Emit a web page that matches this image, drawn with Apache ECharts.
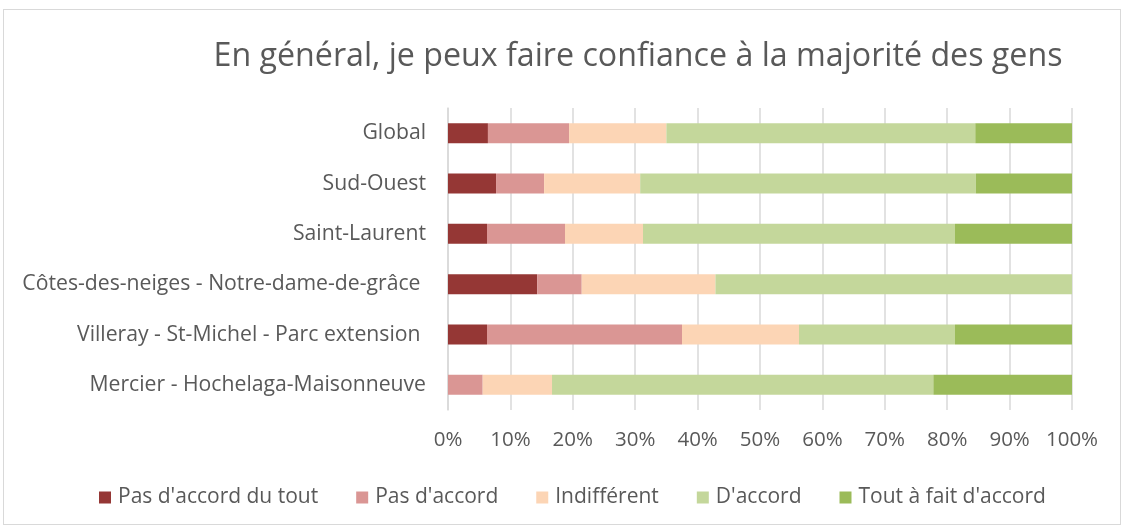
<!DOCTYPE html>
<html>
<head>
<meta charset="utf-8">
<script src="https://cdn.jsdelivr.net/npm/echarts@6/dist/echarts.min.js"></script>
<style>
  html, body { margin: 0; padding: 0; background: #fff; }
  #frame { position: absolute; left: 3px; top: 9px; width: 1116px; height: 514px; border: 1px solid #d9d9d9; }
  #chart { position: absolute; left: 0; top: 0; width: 1126px; height: 529px; }
</style>
</head>
<body>
<div id="frame"></div>
<div id="chart"></div>
<script>
var titleText = "En général, je peux faire confiance à la majorité des gens";
var categories = [
    "Global",
    "Sud-Ouest",
    "Saint-Laurent",
    "Côtes-des-neiges - Notre-dame-de-grâce ",
    "Villeray - St-Michel - Parc extension ",
    "Mercier - Hochelaga-Maisonneuve"
];
var seriesNames = ["Pas d'accord du tout", "Pas d'accord", "Indifférent", "D'accord", "Tout à fait d'accord"];
var colors = ["#953735", "#da9694", "#fcd5b5", "#c4d79b", "#9bbb59"];

// % par catégorie, même ordre que categories
var pasDuTout   = [6.4, 7.7, 6.25, 14.29, 6.25, 0];
var pasDaccord  = [13.0, 7.7, 12.5, 7.14, 31.25, 5.56];
var indifferent = [15.6, 15.4, 12.5, 21.43, 18.75, 11.11];
var daccord     = [49.5, 53.8, 50.0, 57.14, 25.0, 61.11];
var toutAFait   = [15.5, 15.4, 18.75, 0, 18.75, 22.22];

var font = "'Open Sans', 'Liberation Sans', sans-serif";
var chart = echarts.init(document.getElementById('chart'));

var values = [pasDuTout, pasDaccord, indifferent, daccord, toutAFait];
var series = [];
for (var i = 0; i < seriesNames.length; i++) {
    series.push({
        name: seriesNames[i],
        type: 'bar',
        stack: 'total',
        barWidth: 20,
        itemStyle: { color: colors[i] },
        data: values[i]
    });
}

chart.setOption({
    animation: false,
    color: colors,
    title: {
        text: titleText,
        left: 633,
        top: 36,
        textAlign: 'center',
        textStyle: { fontFamily: font, fontSize: 32.2, fontWeight: 'normal', color: '#595959' }
    },
    legend: {
        top: 482,
        left: 94,
        itemWidth: 12,
        itemHeight: 12,
        itemGap: 38,
        icon: 'rect',
        textStyle: { fontFamily: font, fontSize: 21, color: '#595959', padding: [0, 0, 0, 2] },
        data: seriesNames
    },
    grid: { left: 448, right: 54, top: 108, height: 302, containLabel: false },
    xAxis: {
        type: 'value',
        min: 0,
        max: 100,
        interval: 10,
        axisLine: { show: false },
        axisTick: { show: false },
        splitLine: { lineStyle: { color: '#d9d9d9', width: 1.5 } },
        axisLabel: { formatter: '{value}%', fontFamily: font, fontSize: 20.5, color: '#595959', margin: 20 }
    },
    yAxis: {
        type: 'category',
        inverse: true,
        data: categories,
        axisLine: { show: true, lineStyle: { color: '#d9d9d9', width: 1.5 } },
        axisTick: { show: false },
        axisLabel: { fontFamily: font, fontSize: 21.2, color: '#595959', margin: 22 }
    },
    series: series
});
</script>
</body>
</html>
